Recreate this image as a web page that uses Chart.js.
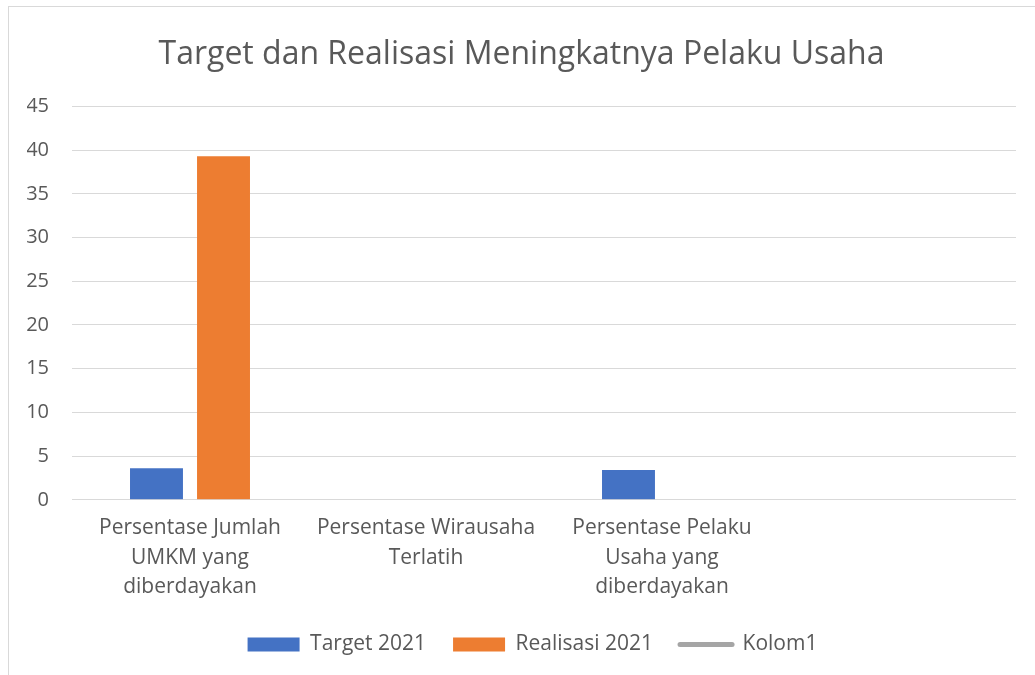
<!DOCTYPE html>
<html>
<head>
<meta charset="utf-8">
<script src="https://cdn.jsdelivr.net/npm/chart.js@4/dist/chart.umd.min.js"></script>
<style>
  html,body{margin:0;padding:0;background:#fff;overflow:hidden;}
  #frame{position:absolute;left:8px;top:6px;width:1040px;height:700px;border:1px solid #d9d9d9;}
  #wrap{position:absolute;left:0;top:0;width:1035px;height:675px;}
</style>
</head>
<body>
<div id="frame"></div>
<div id="wrap"><canvas id="chart-main" width="1035" height="675"></canvas></div>
<script>
/* ── data ── */
const CATEGORIES=[
  ['Persentase Jumlah','UMKM yang','diberdayakan'],
  ['Persentase Wirausaha','Terlatih'],
  ['Persentase Pelaku','Usaha yang','diberdayakan'],
  ''
];
const TARGET_2021=[3.6,0.05,3.4,null];
const REALISASI_2021=[39.3,null,null,null];
const KOLOM1=[null,null,null,null];
const Y_TICKS=[0,5,10,15,20,25,30,35,40,45];

const FONT='"Open Sans"';
const TXT='#595959';

/* nudge the legend a little right, like the original */
const legendShift={
  id:'legendShift',
  afterLayout(chart){chart.legend.left+=11;chart.legend.right+=11;}
};

new Chart(document.getElementById('chart-main'),{
  type:'bar',
  data:{
    labels:CATEGORIES,
    datasets:[
      {label:'Target 2021',data:TARGET_2021,backgroundColor:'#4472C4',borderWidth:0,
        categoryPercentage:0.568,barPercentage:0.79},
      {label:'Realisasi 2021',data:REALISASI_2021,backgroundColor:'#ED7D31',borderWidth:0,
        categoryPercentage:0.568,barPercentage:0.79},
      {label:'Kolom1',data:KOLOM1,type:'line',borderColor:'#A5A5A5',backgroundColor:'#A5A5A5',
        borderWidth:4,borderCapStyle:'round',pointRadius:0,fill:false}
    ]
  },
  plugins:[legendShift],
  options:{
    responsive:false,animation:false,
    layout:{padding:{left:27,right:19,top:16,bottom:10}},
    plugins:{
      title:{display:true,text:'Target dan Realisasi Meningkatnya Pelaku Usaha',color:TXT,
        font:{family:FONT,size:32,weight:'normal'},padding:{top:20,bottom:32}},
      legend:{position:'bottom',
        labels:{color:TXT,font:{family:FONT,size:21},boxWidth:52,boxHeight:14,padding:27,
          usePointStyle:true,pointStyleWidth:52,
          generateLabels(chart){
            return Chart.defaults.plugins.legend.labels.generateLabels(chart).map((l,i)=>{
              l.pointStyle=i===2?'line':'rect';
              if(i===2){l.lineWidth=5;l.lineCap='round';l.strokeStyle='#A5A5A5';}
              else l.lineWidth=0;
              return l;
            });
          }}},
      tooltip:{enabled:false}
    },
    scales:{
      x:{grid:{display:false},border:{display:false},
        ticks:{color:TXT,font:{family:FONT,size:21,lineHeight:1.4},padding:6,maxRotation:0,autoSkip:false},
        afterFit(s){s.height-=1;}},
      y:{min:0,max:45,
        afterBuildTicks(s){s.ticks=Y_TICKS.map(v=>({value:v}));},
        afterFit(s){s.width=45;},
        grid:{color:'#d9d9d9',lineWidth:1,drawTicks:false},border:{display:false},
        ticks:{color:TXT,font:{family:FONT,size:20},padding:23}}
    }
  }
});
</script>
</body>
</html>
